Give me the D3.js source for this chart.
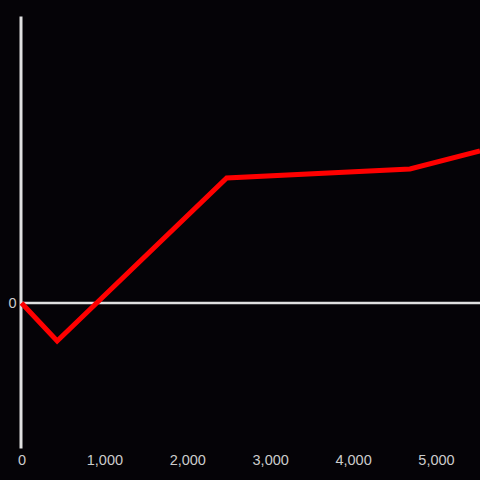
<!DOCTYPE html>
<html>
<head>
<meta charset="utf-8">
<script src="https://cdn.jsdelivr.net/npm/d3@7"></script>
<style>
  body { margin: 0; background: #050307; }
</style>
</head>
<body>
<div id="chart"></div>
<script>
// data
var xs = [0, 430, 2475, 4686, 5531];
var ys = [0, -38, 125, 134, 152];
var xTicks = [0, 1000, 2000, 3000, 4000, 5000];
var yTicks = [0];

const W = 480, H = 480;
const mLeft = 21.5, mTop = 16, mBottom = 448;

var svg = d3.select("#chart")
  .append("svg")
  .attr("width", W)
  .attr("height", H)
  .style("display", "block")
  .style("background", "#050307");

const x = d3.scaleLinear().domain([0, 5531]).range([mLeft, W]);
const y = d3.scaleLinear().domain([-145, 287]).range([mBottom, mTop]);

var pts = xs.map((v, i) => ({ x: v, y: ys[i] }));

// vertical axis
var ya = svg.append("g")
  .attr("transform", `translate(${mLeft - 1},0)`)
  .call(d3.axisLeft(y).tickValues(yTicks).tickSize(0).tickPadding(4));
ya.select(".domain").attr("stroke", "#e0e0e0").attr("stroke-width", 3);
ya.selectAll("text")
  .attr("fill", "#cccccc")
  .style("font-family", "Liberation Sans, Arial, sans-serif")
  .style("font-size", "14.5px");

// zero line
svg.append("line")
  .attr("x1", mLeft - 1).attr("x2", W)
  .attr("y1", y(0)).attr("y2", y(0))
  .attr("stroke", "#e0e0e0")
  .attr("stroke-width", 2.5);

// bottom tick labels
var xa = svg.append("g")
  .attr("transform", `translate(0,${mBottom})`)
  .call(d3.axisBottom(x).tickValues(xTicks).tickSize(0).tickPadding(7).tickFormat(d3.format(",")));
xa.select(".domain").remove();
xa.selectAll("text")
  .attr("fill", "#cccccc")
  .style("font-family", "Liberation Sans, Arial, sans-serif")
  .style("font-size", "14.5px");

// the line
svg.append("path")
  .datum(pts)
  .attr("fill", "none")
  .attr("stroke", "#ff0000")
  .attr("stroke-width", 5)
  .attr("stroke-linejoin", "miter")
  .attr("d", d3.line().x(d => x(d.x)).y(d => y(d.y)));
</script>
</body>
</html>
